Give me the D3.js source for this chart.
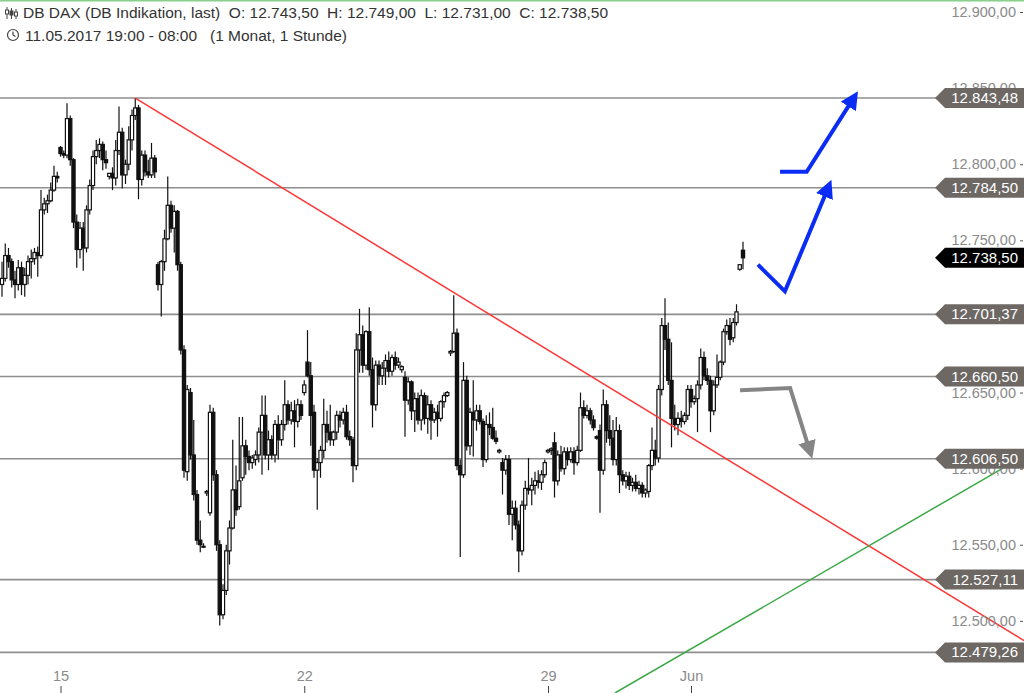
<!DOCTYPE html>
<html>
  <head>
    <meta charset="utf-8">
    <script src="https://cdn.jsdelivr.net/npm/d3@7"></script>
    <style>
      body { margin: 0; background: #fff; }
      svg { display: block; font-family: "Liberation Sans", Arial, sans-serif; }
    </style>
  </head>
  <body>
    <svg id="chart" width="1024" height="693"></svg>
    <script>

      // Hourly candles, 11.05.2017 19:00 up to the 08:00 candle
      var open = [12721,12725,12740,12736,12724,12721,12732,12721,12727,12736,
        12738,12742,12740,12770,12774,12776,12783,12792,12811,12807,
        12806,12830,12803,12762,12744,12758,12745,12770,12786,12805,
        12809,12813,12803,12792,12794,12791,12809,12821,12793,12800,
        12816,12832,12837,12790,12806,12795,12793,12804,12734,12721,
        12736,12751,12773,12758,12769,12734,12678,12598,12650,12609,
        12583,12553,12549,12584,12571,12637,12596,12550,12504,12520,
        12546,12561,12586,12575,12594,12615,12608,12604,12606,12609,
        12624,12635,12609,12619,12609,12629,12619,12629,12642,12632,
        12638,12631,12642,12650,12670,12661,12637,12599,12604,12612,
        12629,12624,12619,12624,12635,12632,12637,12621,12619,12602,
        12678,12688,12668,12690,12665,12642,12668,12661,12666,12671,
        12664,12673,12668,12665,12660,12645,12657,12638,12646,12632,
        12648,12633,12642,12632,12637,12633,12644,12648,12676,12677,
        12689,12602,12596,12658,12615,12637,12632,12638,12631,12606,
        12629,12627,12620,12611,12604,12599,12606,12570,12574,12563,
        12546,12576,12587,12586,12589,12592,12591,12596,12611,12612,
        12617,12592,12609,12600,12611,12606,12611,12604,12612,12640,
        12635,12638,12632,12621,12625,12599,12642,12625,12620,12606,
        12625,12596,12592,12595,12589,12591,12587,12589,12584,12585,
        12602,12612,12607,12652,12694,12685,12658,12633,12629,12633,
        12631,12635,12652,12644,12646,12655,12673,12661,12658,12638,
        12655,12660,12670,12690,12694,12686,12696,12731,12743.5];

      var high = [12736,12748,12745,12738,12730,12737,12736,12732,12740,12744,
        12745,12746,12783,12778,12780,12788,12799,12795,12812,12809,
        12840,12832,12804,12767,12762,12762,12773,12790,12809,12816,
        12817,12815,12809,12794,12798,12816,12838,12824,12803,12825,
        12836,12843.5,12839,12809,12809,12803,12814,12806,12736,12737,
        12757,12792,12776,12773,12770,12736,12681,12655,12653,12632,
        12586,12566,12551,12586,12642,12640,12599,12553,12524,12550,
        12566,12619,12602,12634,12634,12619,12612,12609,12612,12627,
        12648,12648,12625,12622,12632,12635,12632,12658,12645,12644,
        12645,12646,12645,12658,12691,12670,12642,12607,12615,12646,
        12638,12642,12625,12638,12638,12640,12642,12625,12621,12689,
        12705,12694,12691,12706,12673,12671,12671,12670,12675,12677,
        12675,12677,12673,12668,12664,12660,12658,12650,12650,12652,
        12650,12648,12645,12640,12642,12645,12650,12651,12678,12714,
        12692,12606,12670,12661,12640,12658,12642,12642,12633,12635,
        12637,12640,12625,12613,12607,12609,12609,12579,12579,12566,
        12579,12592,12607,12594,12598,12599,12599,12606,12613,12614,
        12624,12612,12615,12614,12614,12614,12614,12615,12650,12645,
        12642,12640,12635,12622,12629,12652,12645,12635,12632,12634,
        12629,12599,12598,12598,12594,12596,12592,12591,12587,12603,
        12627,12619,12655,12699,12712,12696,12683,12642,12637,12638,
        12637,12655,12655,12648,12658,12679,12677,12666,12661,12658,
        12675,12671,12692,12698,12699,12699,12708,12734,12749];

      var low = [12713,12723,12732,12719,12712,12717,12714,12713,12721,12725,
        12734,12726,12738,12767,12768,12775,12782,12788,12805,12804,
        12804,12799,12758,12732,12738,12730,12742,12767,12783,12800,
        12804,12796,12797,12790,12783,12786,12806,12784,12787,12796,
        12809,12829,12777,12786,12792,12791,12791,12791,12717,12700,
        12730,12750,12755,12742,12730,12675,12594,12592,12606,12579,
        12550,12545,12548,12582,12569,12592,12546,12497,12501,12517,
        12537,12560,12569,12573,12592,12596,12599,12600,12602,12604,
        12596,12606,12599,12606,12604,12606,12615,12625,12629,12629,
        12614,12627,12632,12648,12660,12615,12594,12573,12594,12607,
        12617,12615,12615,12619,12627,12629,12619,12615,12591,12599,
        12663,12663,12665,12661,12627,12638,12655,12655,12655,12660,
        12661,12665,12666,12663,12621,12642,12632,12624,12629,12625,
        12629,12623,12619,12630,12621,12631,12640,12647,12674,12676,
        12599,12542,12594,12612,12609,12608,12625,12629,12601,12604,
        12622,12619,12616,12610,12583,12596,12563,12553,12560,12532,
        12543,12573,12583,12576,12583,12587,12586,12594,12610,12609,
        12581,12589,12598,12596,12602,12604,12596,12602,12611,12633,
        12633,12629,12625,12619,12571,12596,12617,12615,12602,12602,
        12584,12589,12587,12586,12585,12585,12583,12581,12581,12581,
        12599,12602,12604,12648,12678,12655,12614,12625,12622,12627,
        12629,12632,12640,12642,12624,12652,12658,12655,12624,12635,
        12653,12658,12668,12688,12681,12683,12694,12730,12731];

      var close = [12725,12740,12736,12724,12721,12732,12721,12727,12736,12738,
        12742,12740,12770,12774,12776,12783,12792,12791,12807,12806,
        12830,12803,12762,12744,12758,12745,12770,12786,12805,12809,
        12813,12803,12801,12794,12791,12809,12821,12793,12800,12816,
        12832,12837,12790,12806,12795,12793,12804,12795,12721,12736,
        12751,12773,12758,12769,12734,12678,12599,12652,12609,12583,
        12553,12550,12549,12585,12637,12596,12550,12504,12520,12546,
        12561,12586,12573,12592,12615,12608,12604,12607,12609,12624,
        12635,12609,12619,12609,12629,12619,12629,12642,12632,12638,
        12631,12642,12635,12655,12661,12635,12599,12604,12612,12629,
        12624,12619,12624,12635,12632,12637,12621,12619,12602,12678,
        12688,12668,12690,12665,12642,12668,12661,12666,12671,12664,
        12673,12668,12670,12667,12645,12657,12638,12646,12632,12648,
        12633,12642,12632,12637,12633,12644,12648,12650,12677,12689,
        12602,12596,12658,12615,12637,12632,12638,12631,12606,12629,
        12627,12620,12618,12612,12599,12606,12570,12574,12563,12546,
        12576,12587,12586,12589,12592,12591,12596,12604,12612,12613,
        12592,12609,12600,12611,12606,12611,12604,12612,12640,12635,
        12638,12632,12627,12620,12599,12642,12625,12620,12606,12625,
        12596,12592,12595,12589,12591,12587,12589,12584,12586,12602,
        12612,12607,12652,12694,12685,12658,12633,12629,12633,12631,
        12635,12652,12644,12646,12655,12673,12661,12658,12638,12655,
        12660,12670,12690,12694,12685,12696,12703,12734,12738.5];

      // first candle of the days that get a label
      var dayTicks = [18, 93, 168, 212];
      var dayLabels = ["15", "22", "29", "Jun"];

      // price axis and the marked levels
      var priceTicks = [12500, 12550, 12600, 12650, 12700, 12750, 12800, 12850, 12900];
      var levels = [12843.48, 12784.50, 12701.37, 12660.50, 12606.50, 12527.11, 12479.26];

      // drawn trend lines [candle index, price]
      var redLine = [[41, 12843.5], [314.5, 12487]];
      var greenLine = [[188.6, 12452.6], [308, 12600.4]];

      // hand drawn arrows [candle index, price]
      var arrowUpTop = [[239.4, 12795], [247.6, 12795], [261, 12840]];
      var arrowUpMid = [[232.6, 12734], [240.9, 12716.5], [253.5, 12781]];
      var arrowDown = [[227.1, 12651.5], [242.5, 12653], [248, 12615.5]];

      var w = 1024;
      var h = 693;
      var svg = d3.select("#chart");

      var x = d3.scaleLinear().domain([0, 228]).range([2, 743]);
      var y = d3.scaleLinear().domain([12452.6, 12907.9]).range([h, 0]);

      var de = d3.formatLocale({decimal: ",", thousands: ".", grouping: [3], currency: ["", " €"]});
      var fmt = de.format(",.2f");

      var candles = d3.range(open.length).map(function(i) {
        return {i: i, o: open[i], h: high[i], l: low[i], c: close[i]};
      });
      var last = candles[candles.length - 1];

      // green frame line on top
      svg.append("line")
        .attr("x1", 0).attr("x2", w)
        .attr("y1", 0.75).attr("y2", 0.75)
        .attr("stroke", "#86d08a")
        .attr("stroke-width", 1.5);

      // Level lines
      svg.selectAll(".level")
        .data(levels)
        .enter()
        .append("line")
        .attr("class", "level")
        .attr("x1", 0)
        .attr("x2", 940)
        .attr("y1", function(d) { return y(d); })
        .attr("y2", function(d) { return y(d); })
        .attr("stroke", "#8e8e8e")
        .attr("stroke-width", 1.6);

      // Candles
      var g = svg.append("g");
      g.selectAll(".wick")
        .data(candles)
        .enter()
        .append("line")
        .attr("class", "wick")
        .attr("x1", function(d) { return x(d.i); })
        .attr("x2", function(d) { return x(d.i); })
        .attr("y1", function(d) { return y(d.h); })
        .attr("y2", function(d) { return y(d.l); })
        .attr("stroke", "#111")
        .attr("stroke-width", 1.2);

      g.selectAll(".body")
        .data(candles)
        .enter()
        .append("rect")
        .attr("class", "body")
        .attr("x", function(d) { return x(d.i) - 1.6; })
        .attr("width", 3.2)
        .attr("y", function(d) { return y(Math.max(d.o, d.c)); })
        .attr("height", function(d) { return Math.max(1, Math.abs(y(d.o) - y(d.c))); })
        .attr("fill", function(d) { return d.c >= d.o ? "#fff" : "#111"; })
        .attr("stroke", "#111")
        .attr("stroke-width", 1.2);

      // Trend lines
      var line = d3.line()
        .x(function(d) { return x(d[0]); })
        .y(function(d) { return y(d[1]); });

      svg.append("path")
        .attr("d", line(redLine))
        .attr("fill", "none")
        .attr("stroke", "#ff3535")
        .attr("stroke-width", 1.5);

      svg.append("path")
        .attr("d", line(greenLine))
        .attr("fill", "none")
        .attr("stroke", "#3aa845")
        .attr("stroke-width", 1.5);

      // Arrows
      var defs = svg.append("defs");
      function marker(id, color) {
        defs.append("marker")
          .attr("id", id)
          .attr("viewBox", "0 0 10 10")
          .attr("refX", 2)
          .attr("refY", 5)
          .attr("markerUnits", "userSpaceOnUse")
          .attr("markerWidth", 18)
          .attr("markerHeight", 18)
          .attr("orient", "auto")
          .append("path")
          .attr("d", "M0,0 L10,5 L0,10 Z")
          .attr("fill", color);
      }
      marker("headBlue", "#0b2cf5");
      marker("headGray", "#858585");

      function arrow(pts, color, head) {
        svg.append("path")
          .attr("d", line(pts))
          .attr("fill", "none")
          .attr("stroke", color)
          .attr("stroke-width", 4)
          .attr("stroke-linejoin", "miter")
          .attr("marker-end", "url(#" + head + ")");
      }
      arrow(arrowUpTop, "#0b2cf5", "headBlue");
      arrow(arrowUpMid, "#0b2cf5", "headBlue");
      arrow(arrowDown, "#858585", "headGray");

      // Price axis
      var yAxis = svg.append("g")
        .attr("transform", "translate(" + (w - 1) + ",0)")
        .call(d3.axisLeft(y).tickValues(priceTicks).tickFormat(fmt).tickSize(3).tickPadding(4));
      yAxis.select(".domain").remove();
      yAxis.selectAll("text")
        .attr("fill", "#8a8a8a")
        .style("font-size", "14.5px")
        .style("font-family", "Liberation Sans, Arial, sans-serif");
      yAxis.selectAll("line").attr("stroke", "#555");

      // Level labels
      function tag(value, color) {
        var yy = y(value);
        var lg = svg.append("g").attr("transform", "translate(0," + yy + ")");
        lg.append("path")
          .attr("d", "M935,0 L945,-10 L1024,-10 L1024,10 L945,10 Z")
          .attr("fill", color);
        lg.append("text")
          .attr("x", 1018)
          .attr("y", 5)
          .attr("text-anchor", "end")
          .attr("fill", "#fff")
          .style("font-size", "15px")
          .text(fmt(value));
      }
      levels.forEach(function(v) { tag(v, "#6d6864"); });
      tag(last.c, "#000");

      // Time axis
      var xAxis = svg.append("g")
        .attr("transform", "translate(0," + h + ")")
        .call(d3.axisTop(x).tickValues(dayTicks)
          .tickFormat(function(d, k) { return dayLabels[k]; })
          .tickSize(7).tickPadding(5));
      xAxis.select(".domain").remove();
      xAxis.selectAll("text")
        .attr("fill", "#8a8a8a")
        .style("font-size", "14.5px")
        .style("font-family", "Liberation Sans, Arial, sans-serif");
      xAxis.selectAll("line").attr("stroke", "#444");

      // Header
      var head = svg.append("g").attr("fill", "#333").style("font-size", "15.5px");
      head.append("text")
        .attr("x", 23)
        .attr("y", 18)
        .style("white-space", "pre")
        .text("DB DAX (DB Indikation, last)  O: " + fmt(last.o) + "  H: " + fmt(last.h) +
              "  L: " + fmt(last.l) + "  C: " + fmt(last.c));
      head.append("text")
        .attr("x", 25)
        .attr("y", 41)
        .style("white-space", "pre")
        .text("11.05.2017 19:00 - 08:00   (1 Monat, 1 Stunde)");

      // small candle icon
      var icon = svg.append("g").attr("stroke", "#444").attr("fill", "none");
      [7, 11.5, 16].forEach(function(cx, k) {
        icon.append("line").attr("x1", cx).attr("x2", cx).attr("y1", 7 + k).attr("y2", 19);
        icon.append("rect").attr("x", cx - 1.5).attr("y", 10 + k).attr("width", 3).attr("height", 4)
          .attr("fill", k == 1 ? "#444" : "#fff");
      });

      // clock icon
      svg.append("circle")
        .attr("cx", 13).attr("cy", 35).attr("r", 5.5)
        .attr("fill", "none").attr("stroke", "#444").attr("stroke-width", 1.2);
      svg.append("path")
        .attr("d", "M13,31.5 L13,35 L15.5,36.5")
        .attr("fill", "none").attr("stroke", "#444").attr("stroke-width", 1.2);

    </script>
  </body>
</html>
